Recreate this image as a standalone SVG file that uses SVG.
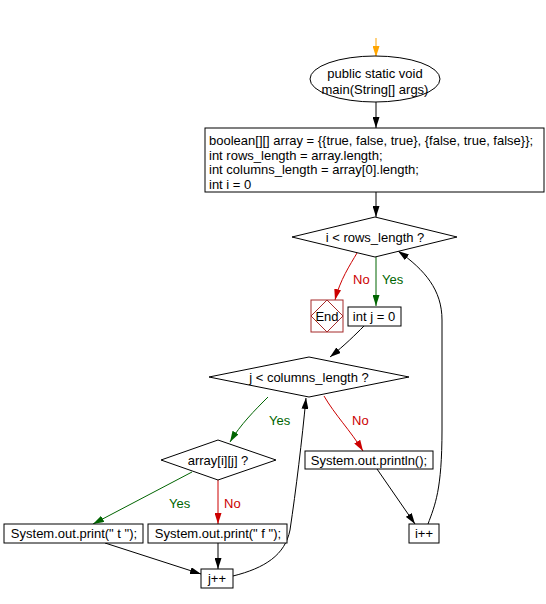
<svg xmlns="http://www.w3.org/2000/svg" width="546" height="604" viewBox="0 0 546 604">
<defs>
<style>
text{font-family:"Liberation Sans",Arial,sans-serif;font-size:13px;fill:#000}
.c{text-anchor:middle}
.node{fill:#fff;stroke:#000;stroke-width:1}
.e{fill:none;stroke:#000;stroke-width:1}
.g{stroke:#006400}
.r{stroke:#cc0000}
.o{stroke:#ffa500}
.lg{fill:#006400}
.lr{fill:#cc0000}
</style>
<marker id="ak" viewBox="0 0 11 7" refX="11" refY="3.5" markerWidth="11" markerHeight="7" markerUnits="userSpaceOnUse" orient="auto"><path d="M0,0L11,3.5L0,7z" fill="#000"/></marker>
<marker id="ag" viewBox="0 0 11 7" refX="11" refY="3.5" markerWidth="11" markerHeight="7" markerUnits="userSpaceOnUse" orient="auto"><path d="M0,0L11,3.5L0,7z" fill="#006400"/></marker>
<marker id="ar" viewBox="0 0 11 7" refX="11" refY="3.5" markerWidth="11" markerHeight="7" markerUnits="userSpaceOnUse" orient="auto"><path d="M0,0L11,3.5L0,7z" fill="#cc0000"/></marker>
<marker id="ao" viewBox="0 0 11 7" refX="11" refY="3.5" markerWidth="11" markerHeight="7" markerUnits="userSpaceOnUse" orient="auto"><path d="M0,0L11,3.5L0,7z" fill="#ffa500"/></marker>
</defs>
<rect width="546" height="604" fill="#fff"/>
<g id="connectors">
<path class="e o" d="M376,38L376,57" marker-end="url(#ao)"/>
<path class="e" d="M376,102L376,128" marker-end="url(#ak)"/>
<path class="e" d="M376,192L376,217" marker-end="url(#ak)"/>
<path class="e r" d="M357,253C350,265 340,280 335,300" marker-end="url(#ar)"/>
<path class="e g" d="M376,256L376,306" marker-end="url(#ag)"/>
<path class="e" d="M364,326C355,335 345,345 330,357" marker-end="url(#ak)"/>
<path class="e g" d="M268,397C255,410 240,425 230,442" marker-end="url(#ag)"/>
<path class="e r" d="M324,396C335,415 350,430 363,451" marker-end="url(#ar)"/>
<path class="e g" d="M192,472L93,524" marker-end="url(#ag)"/>
<path class="e r" d="M218,480L218,524" marker-end="url(#ar)"/>
<path class="e" d="M105,543L201,574" marker-end="url(#ak)"/>
<path class="e" d="M218,543L218,569" marker-end="url(#ak)"/>
<path class="e" d="M233,576C265,568 285,555 290,530C296,490 302,440 306,398" marker-end="url(#ak)"/>
<path class="e" d="M377,469L415,524" marker-end="url(#ak)"/>
<path class="e" d="M428,524C435,505 442,490 442,430L442,320C442,290 425,270 398,251" marker-end="url(#ak)"/>
<text class="lr" x="353" y="284">No</text>
<text class="lg" x="382" y="284">Yes</text>
<text class="lg" x="269" y="425">Yes</text>
<text class="lr" x="352" y="425">No</text>
<text class="lg" x="169" y="508">Yes</text>
<text class="lr" x="224" y="508">No</text>
</g>
<g id="start">
<ellipse class="node" cx="375" cy="79" rx="65" ry="23"/>
<text class="c" x="375" y="78">public static void</text>
<text class="c" x="375" y="94">main(String[] args)</text>
</g>
<g id="init">
<rect class="node" x="205" y="128" width="339" height="64"/>
<text x="209" y="145">boolean[][] array = {{true, false, true}, {false, true, false}};</text>
<text x="209" y="160">int rows_length = array.length;</text>
<text x="209" y="174">int columns_length = array[0].length;</text>
<text x="209" y="189">int i = 0</text>
</g>
<g id="cond_i">
<path class="node" d="M292,237L375,217L457,237L375,257z"/>
<text class="c" x="375" y="242">i &lt; rows_length ?</text>
</g>
<g id="end">
<rect x="311" y="300" width="32" height="32" fill="#fff" stroke="#a52a2a"/>
<path d="M327,300L343,316L327,332L311,316z" fill="none" stroke="#a52a2a"/>
<text class="c" x="327" y="321">End</text>
</g>
<g id="init_j">
<rect class="node" x="348" y="307" width="53" height="19"/>
<text class="c" x="374" y="321">int j = 0</text>
</g>
<g id="cond_j">
<path class="node" d="M209,377L309,357L409,377L309,397z"/>
<text class="c" x="309" y="382">j &lt; columns_length ?</text>
</g>
<g id="cond_arr">
<path class="node" d="M161,460L218,440L276,460L218,480z"/>
<text class="c" x="218" y="465">array[i][j] ?</text>
</g>
<g id="print_t">
<rect class="node" x="4" y="524" width="139" height="19"/>
<text class="c" x="74" y="538">System.out.print(" t ");</text>
</g>
<g id="print_f">
<rect class="node" x="148" y="524" width="139" height="19"/>
<text class="c" x="218" y="538">System.out.print(" f ");</text>
</g>
<g id="println">
<rect class="node" x="305" y="451" width="128" height="18"/>
<text class="c" x="369" y="465">System.out.println();</text>
</g>
<g id="inc_i">
<rect class="node" x="409" y="524" width="30" height="19"/>
<text class="c" x="424" y="538">i++</text>
</g>
<g id="inc_j">
<rect class="node" x="201" y="569" width="32" height="19"/>
<text class="c" x="217" y="583">j++</text>
</g>
</svg>
